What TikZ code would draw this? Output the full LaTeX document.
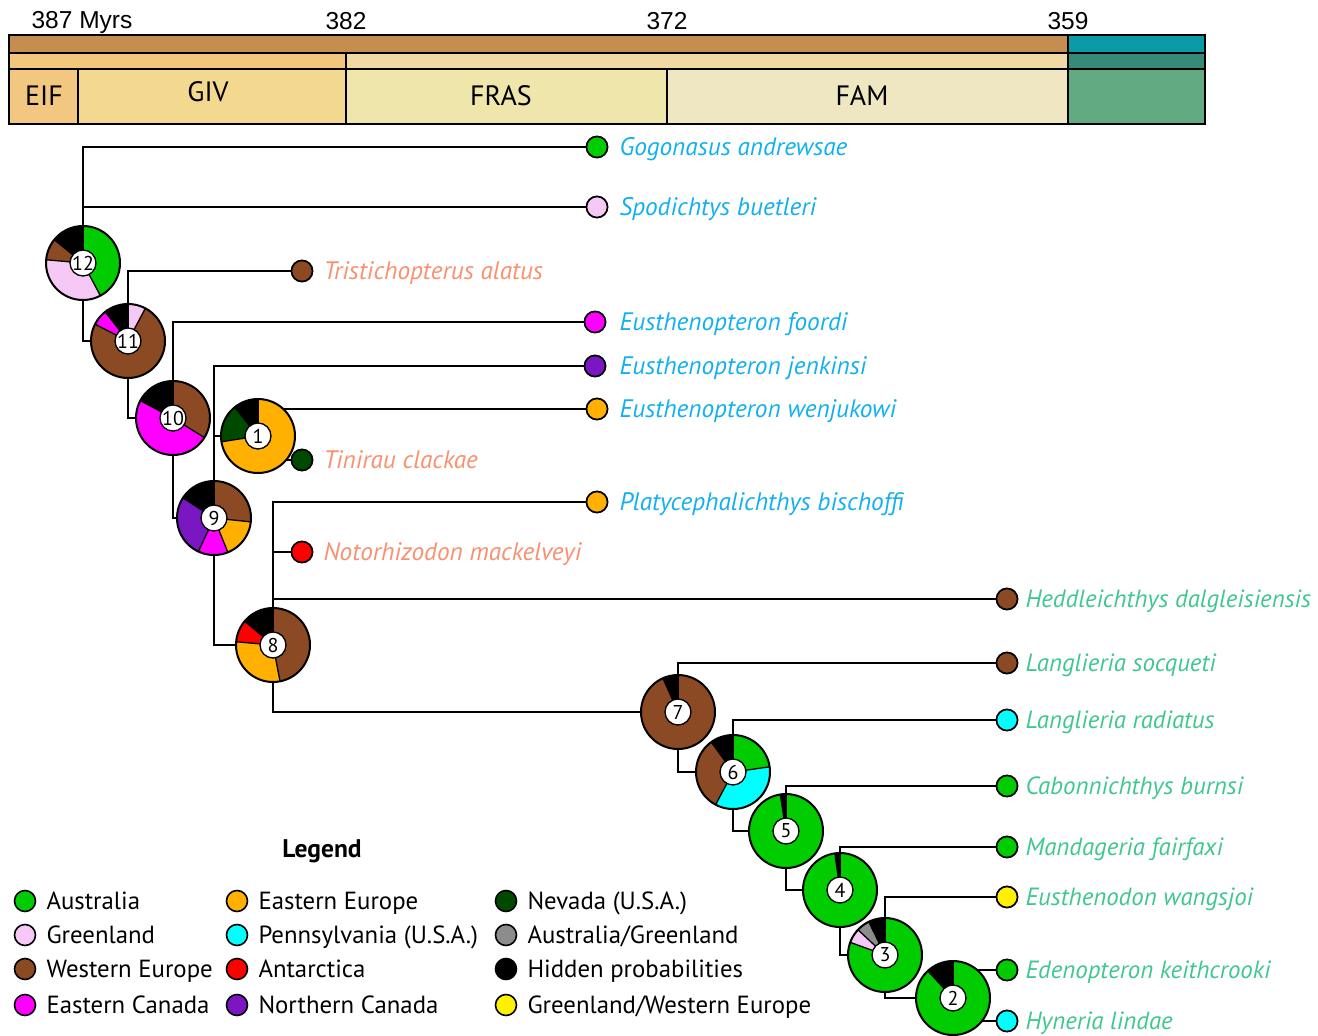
\documentclass[tikz,border=0pt]{standalone}
\usepackage{fontspec}
\setmainfont{PT Sans}
\newfontfamily\arialf{Liberation Sans}
\definecolor{cAus}{HTML}{00CC00}
\definecolor{cGre}{HTML}{F5C8F5}
\definecolor{cWEu}{HTML}{8B4A23}
\definecolor{cECa}{HTML}{FF00FF}
\definecolor{cEEu}{HTML}{FFB000}
\definecolor{cPen}{HTML}{00FFFF}
\definecolor{cAnt}{HTML}{FF0000}
\definecolor{cNCa}{HTML}{7A16C2}
\definecolor{cNev}{HTML}{004A00}
\definecolor{cAG}{HTML}{8C8C8C}
\definecolor{cHid}{HTML}{000000}
\definecolor{cGWE}{HTML}{FFF000}
\definecolor{tBlue}{HTML}{12B0EE}
\definecolor{tSal}{HTML}{F9906F}
\definecolor{tGrn}{HTML}{3FC78F}
\definecolor{tlA}{HTML}{C68E4E}
\definecolor{tlB}{HTML}{F2C67C}
\definecolor{tlC}{HTML}{F0D9A2}
\definecolor{tlEIF}{HTML}{F2C77F}
\definecolor{tlGIV}{HTML}{F2D98F}
\definecolor{tlFRAS}{HTML}{EEE6AA}
\definecolor{tlFAM}{HTML}{EEE7C2}
\definecolor{cbA}{HTML}{0A9BA8}
\definecolor{cbB}{HTML}{368B78}
\definecolor{cbC}{HTML}{62AB82}
\newcommand\piechart[3]{%
 \begin{scope}[shift={(#1)}]
  \foreach \a/\b/\c in {#3} {
   \fill[\c] (0,0) -- (\a:37) arc[start angle=\a, end angle=\b, radius=37] -- cycle;
  }
  \foreach \a/\b/\c in {#3} { \draw[line width=1.3] (0,0) -- (\a:37); }
  \draw[line width=2] (0,0) circle[radius=37];
  \node[pienum] (#1num) at (0,0) {#2};
 \end{scope}}
\newcommand\legitem[5]{%
  \node[leaf, fill=#4] (lc#1) at (#2,#3) {};
  \node[legtext, anchor=base west] (lt#1) at ([xshift=10,yshift=-8]lc#1.east) {#5};}
\newcommand\taxlab[5]{% name, leaf, color, xshift, text
  \node[taxon, #3, anchor=base west] (#1) at ([xshift=#4,yshift=-8]#2.east) {#5};}
\begin{document}
\begin{tikzpicture}[x=1pt, y=1pt,
  edge/.style={line width=1.6},
  leaf/.style={circle, draw, line width=1.6, minimum size=21, inner sep=0},
  taxon/.style={font=\itshape\fontsize{25.3}{28}\selectfont, inner sep=0},
  taxonR/.style={font=\itshape\fontsize{24.9}{28}\selectfont, inner sep=0},
  pienum/.style={circle, draw, fill=white, line width=1.3, minimum size=26, inner sep=0, font=\fontsize{20}{22}\selectfont},
  legtext/.style={font=\fontsize{24.8}{28}\selectfont, inner sep=0},
  tlnum/.style={font=\arialf\fontsize{24.5}{26}\selectfont, inner sep=0, anchor=base},
  period/.style={font=\fontsize{28}{30}\selectfont, inner sep=0},
  band/.style={draw, line width=1.5}]
\useasboundingbox (0,0) rectangle (1318,-1036);
% ---------- time scale ----------
\fill[tlA] (9,-35) rectangle (1068,-53);
\fill[cbA] (1068,-35) rectangle (1205,-53);
\fill[tlB] (9,-53) rectangle (346,-69);
\fill[tlC] (346,-53) rectangle (1068,-69);
\fill[cbB] (1068,-53) rectangle (1205,-69);
\fill[tlEIF] (9,-69) rectangle (78,-124);
\fill[tlGIV] (78,-69) rectangle (346,-124);
\fill[tlFRAS] (346,-69) rectangle (667,-124);
\fill[tlFAM] (667,-69) rectangle (1068,-124);
\fill[cbC] (1068,-69) rectangle (1205,-124);
\draw[band] (9,-35) rectangle (1205,-124);
\draw[band] (9,-53) -- (1205,-53);
\draw[band] (9,-69) -- (1205,-69);
\draw[band] (78,-69) -- (78,-124);
\draw[band] (346,-53) -- (346,-124);
\draw[band] (667,-69) -- (667,-124);
\draw[band] (1068,-35) -- (1068,-124);
\node[tlnum] (m387) at (82,-28) {387 Myrs};
\node[tlnum] (m382) at (346,-30) {382};
\node[tlnum] (m372) at (667,-30) {372};
\node[tlnum] (m359) at (1068,-30) {359};
\node[period] (pEIF) at (44,-96) {EIF};
\node[period] (pGIV) at (208,-92) {GIV};
\node[period] (pFRAS) at (501,-96) {FRAS};
\node[period] (pFAM) at (862,-96) {FAM};
% ---------- internal node positions ----------
\coordinate (n12) at (83,-263);
\coordinate (n11) at (128,-341);
\coordinate (n10) at (173,-418);
\coordinate (n1) at (258,-436);
\coordinate (n9) at (214,-518);
\coordinate (n8) at (273,-645);
\coordinate (n7) at (678,-712);
\coordinate (n6) at (733,-772);
\coordinate (n5) at (786,-831);
\coordinate (n4) at (840,-890);
\coordinate (n3) at (885,-955);
\coordinate (n2) at (953,-998);
% ---------- leaves ----------
\node[leaf, fill=cAus] (g1) at (597,-147) {};
\node[leaf, fill=cGre] (g2) at (597,-207) {};
\node[leaf, fill=cWEu] (g3) at (302,-271) {};
\node[leaf, fill=cECa] (g4) at (595,-322) {};
\node[leaf, fill=cNCa] (g5) at (595,-366) {};
\node[leaf, fill=cEEu] (g6) at (597,-409) {};
\node[leaf, fill=cNev] (g7) at (302,-460) {};
\node[leaf, fill=cEEu] (g8) at (597,-502) {};
\node[leaf, fill=cAnt] (g9) at (302,-552) {};
\node[leaf, fill=cWEu] (g10) at (1007,-599) {};
\node[leaf, fill=cWEu] (g11) at (1007,-663) {};
\node[leaf, fill=cPen] (g12) at (1007,-720) {};
\node[leaf, fill=cAus] (g13) at (1007,-786) {};
\node[leaf, fill=cAus] (g14) at (1007,-847) {};
\node[leaf, fill=cGWE] (g15) at (1007,-897) {};
\node[leaf, fill=cAus] (g16) at (1007,-970) {};
\node[leaf, fill=cPen] (g17) at (1007,-1021) {};
% ---------- connectors ----------
\draw[edge] (g1) -| (n12) |- (n11);
\draw[edge] (g2) -- (g2 -| n12);
\draw[edge] (g3) -| (n11) |- (n10);
\draw[edge] (g4) -| (n10) |- (n9);
\draw[edge] (g5) -| (n9) |- (n8);
\draw[edge] (n1) -- (n1 -| n9);
\draw[edge] (g6) -| (n1) |- (g7);
\draw[edge] (g8) -| (n8) |- (n7);
\draw[edge] (g9) -- (g9 -| n8);
\draw[edge] (g10) -- (g10 -| n8);
\draw[edge] (g11) -| (n7) |- (n6);
\draw[edge] (g12) -| (n6) |- (n5);
\draw[edge] (g13) -| (n5) |- (n4);
\draw[edge] (g14) -| (n4) |- (n3);
\draw[edge] (g15) -| (n3) |- (n2);
\draw[edge] (g16) -| (n2) |- (g17);
% redraw leaves on top
\foreach \g/\c in {g1/cAus,g2/cGre,g3/cWEu,g4/cECa,g5/cNCa,g6/cEEu,g7/cNev,g8/cEEu,g9/cAnt,g10/cWEu,g11/cWEu,g12/cPen,g13/cAus,g14/cAus,g15/cGWE,g16/cAus,g17/cPen}
  {\draw[line width=1.6, fill=\c] (\g) circle[radius=10.5];}
% ---------- pies ----------
\piechart{n12}{12}{90/141/cHid, 141/175/cWEu, 175/298/cGre, 298/450/cAus}
\piechart{n11}{11}{62/90/cGre, 90/128/cHid, 128/153/cECa, 153/422/cWEu}
\piechart{n10}{10}{-32/90/cWEu, 90/152/cHid, 152/328/cECa}
\piechart{n1}{1}{90/129/cHid, 129/189/cNev, 189/450/cEEu}
\piechart{n9}{9}{-6/90/cWEu, 90/147/cHid, 147/245/cNCa, 245/292/cECa, 292/354/cEEu}
\piechart{n8}{8}{-79/90/cWEu, 90/140/cHid, 140/175/cAnt, 175/281/cEEu}
\piechart{n7}{7}{90/114/cHid, 114/450/cWEu}
\piechart{n6}{6}{8/90/cAus, 90/126/cHid, 126/242/cWEu, 242/368/cPen}
\piechart{n5}{5}{90/99/cHid, 99/450/cAus}
\piechart{n4}{4}{90/98/cHid, 98/450/cAus}
\piechart{n3}{3}{90/116/cHid, 116/137/cAG, 137/160/cGre, 160/450/cAus}
\piechart{n2}{2}{90/133/cHid, 133/450/cAus}
% ---------- taxon labels ----------
\taxlab{t1}{g1}{tBlue}{11}{Gogonasus andrewsae}
\taxlab{t2}{g2}{tBlue}{11}{Spodichtys buetleri}
\taxlab{t3}{g3}{tSal}{10}{Tristichopterus alatus}
\taxlab{t4}{g4}{tBlue}{13}{Eusthenopteron foordi}
\taxlab{t5}{g5}{tBlue}{13}{Eusthenopteron jenkinsi}
\taxlab{t6}{g6}{tBlue}{11}{Eusthenopteron wenjukowi}
\taxlab{t7}{g7}{tSal}{10}{Tinirau clackae}
\taxlab{t8}{g8}{tBlue}{11}{Platycephalichthys bischoffi}
\taxlab{t9}{g9}{tSal}{10}{Notorhizodon mackelveyi}
\taxlab{t10}{g10}{tGrn,taxonR}{7}{Heddleichthys dalgleisiensis}
\taxlab{t11}{g11}{tGrn,taxonR}{7}{Langlieria socqueti}
\taxlab{t12}{g12}{tGrn,taxonR}{7}{Langlieria radiatus}
\taxlab{t13}{g13}{tGrn,taxonR}{7}{Cabonnichthys burnsi}
\taxlab{t14}{g14}{tGrn,taxonR}{7}{Mandageria fairfaxi}
\taxlab{t15}{g15}{tGrn,taxonR}{7}{Eusthenodon wangsjoi}
\taxlab{t16}{g16}{tGrn,taxonR}{7}{Edenopteron keithcrooki}
\taxlab{t17}{g17}{tGrn,taxonR}{7}{Hyneria lindae}
% ---------- legend ----------
\node[font=\bfseries\fontsize{25.5}{28}\selectfont, inner sep=0] (legtitle) at (322,-851) {Legend};
\legitem{1}{25}{-901}{cAus}{Australia}
\legitem{2}{25}{-935}{cGre}{Greenland}
\legitem{3}{25}{-969}{cWEu}{Western Europe}
\legitem{4}{25}{-1005}{cECa}{Eastern Canada}
\legitem{5}{237}{-901}{cEEu}{Eastern Europe}
\legitem{6}{237}{-935}{cPen}{Pennsylvania (U.S.A.)}
\legitem{7}{237}{-969}{cAnt}{Antarctica}
\legitem{8}{237}{-1005}{cNCa}{Northern Canada}
\legitem{9}{506}{-901}{cNev}{Nevada (U.S.A.)}
\legitem{10}{506}{-935}{cAG}{Australia/Greenland}
\legitem{11}{506}{-969}{cHid}{Hidden probabilities}
\legitem{12}{506}{-1005}{cGWE}{Greenland/Western Europe}
\end{tikzpicture}
\end{document}
